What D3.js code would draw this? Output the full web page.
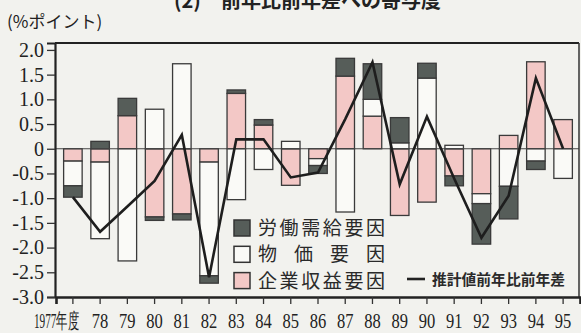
<!DOCTYPE html>
<html>
<head>
<meta charset="utf-8">
<script src="https://cdn.jsdelivr.net/npm/d3@7"></script>
<style>
  html, body { margin: 0; padding: 0; background: #f2f2ee; }
  svg { display: block; }
</style>
</head>
<body>
<svg id="chart" width="581" height="333"></svg>
<script>
// Fiscal years on the category axis
const years = ["1977","78","79","80","81","82","83","84","85","86","87","88","89","90","91","92","93","94","95"];
const yearLabels = ["1977年度","78","79","80","81","82","83","84","85","86","87","88","89","90","91","92","93","94","95"];

// Contributions (% points) by factor
const profitFactor = [-0.25,-0.27, 0.67,-1.38,-1.32,-0.27, 1.12, 0.48,-0.74,-0.20, 1.47, 0.66,-1.35,-1.08,-0.55,-0.91, 0.27, 1.76, 0.59]; // 企業収益要因
const priceFactor  = [-0.50,-1.55,-2.27, 0.80, 1.72,-2.30,-1.03,-0.42, 0.15,-0.14,-1.28, 0.34, 0.12, 1.43, 0.07,-0.20,-0.76,-0.25,-0.60]; // 物価要因
const laborFactor  = [-0.23, 0.15, 0.35,-0.07,-0.12,-0.15, 0.07, 0.11, 0.00,-0.16, 0.36, 0.72, 0.51, 0.30,-0.20,-0.82,-0.66,-0.17, 0.00]; // 労働需給要因

// Year-on-year change of the estimated value
const estimateDiff = [-0.98,-1.68,-1.17,-0.65, 0.28,-2.60, 0.19, 0.19,-0.58,-0.48, 0.60, 1.75,-0.72, 0.65,-0.60,-1.80,-0.95, 1.43, 0.00];

const yTicks = [2.0, 1.5, 1.0, 0.5, 0, -0.5, -1.0, -1.5, -2.0, -2.5, -3.0];
const yTickLabels = ["2.0","1.5","1.0","0.5","0","-0.5","-1.0","-1.5","-2.0","-2.5","-3.0"];

const seriesKeys = ["profit", "price", "labor"];
const seriesNames = { labor: "労働需給要因", price: "物　価　要　因", profit: "企業収益要因" };
const seriesFill = { labor: "#565d59", price: "#fafaf7", profit: "#f3c8c6" };

const table = years.map((yr, i) => ({
  year: yr, profit: profitFactor[i], price: priceFactor[i], labor: laborFactor[i]
}));

const svg = d3.select("#chart");
const plotLeft = 55, plotRight = 579, plotTop = 43, plotBottom = 297;

const x = d3.scaleBand().domain(years).range([plotLeft + 1, plotRight + 1])
  .paddingInner(0.32).paddingOuter(0.28);
const y = d3.scaleLinear().domain([-3, 2.14]).range([plotBottom, plotTop]);

// Title (upper part runs off the top edge)
svg.append("text")
  .attr("x", 174).attr("y", 8)
  .attr("font-family", "Noto Sans CJK JP").attr("font-size", 20).attr("font-weight", "bold")
  .attr("fill", "#222")
  .text("(2)　前年比前年差への寄与度");

// Unit label
svg.append("text")
  .attr("x", 7).attr("y", 28)
  .attr("font-family", "Noto Sans CJK JP").attr("font-size", 17)
  .attr("fill", "#222")
  .text("(%ポイント)");

// Stacked bars, positives up and negatives down from zero
const stacked = d3.stack().keys(seriesKeys)
  .order(d3.stackOrderNone).offset(d3.stackOffsetDiverging)(table);

const barG = svg.append("g");
stacked.forEach(layer => {
  barG.append("g").selectAll("rect")
    .data(layer.filter(d => d[0] !== d[1]))
    .join("rect")
    .attr("x", d => x(d.data.year))
    .attr("width", x.bandwidth())
    .attr("y", d => y(Math.max(d[0], d[1])))
    .attr("height", d => Math.abs(y(d[0]) - y(d[1])))
    .attr("fill", seriesFill[layer.key])
    .attr("stroke", "#3a3a3a")
    .attr("stroke-width", 1.3);
});

// Zero line
svg.append("line")
  .attr("x1", plotLeft).attr("x2", plotRight)
  .attr("y1", y(0)).attr("y2", y(0))
  .attr("stroke", "#444").attr("stroke-width", 1);

// Estimated value line
const line = d3.line()
  .x((d, i) => x(years[i]) + x.bandwidth() / 2)
  .y(d => y(d));
svg.append("path")
  .datum(estimateDiff)
  .attr("d", line)
  .attr("fill", "none")
  .attr("stroke", "#1e1e1e")
  .attr("stroke-width", 2.6)
  .attr("stroke-linejoin", "miter");

// Frame
svg.append("line").attr("x1", plotLeft).attr("x2", plotRight).attr("y1", plotTop).attr("y2", plotTop)
  .attr("stroke", "#222").attr("stroke-width", 2);
svg.append("line").attr("x1", plotRight).attr("x2", plotRight).attr("y1", plotTop).attr("y2", plotBottom)
  .attr("stroke", "#333").attr("stroke-width", 1.5);

// Axes
const yAxis = d3.axisLeft(y).tickValues(yTicks)
  .tickFormat((d, i) => yTickLabels[i]).tickSize(8).tickPadding(3);
const yG = svg.append("g").attr("transform", `translate(${plotLeft},0)`).call(yAxis);
yG.select(".domain").attr("stroke", "#222").attr("stroke-width", 2.2);
yG.selectAll(".tick line").attr("stroke", "#333").attr("stroke-width", 1.3);
yG.selectAll(".tick text")
  .attr("font-family", "Liberation Serif").attr("font-size", 20).attr("fill", "#222");

const xAxis = d3.axisBottom(x).tickFormat((d, i) => yearLabels[i]).tickSize(7).tickPadding(0);
const xG = svg.append("g").attr("transform", `translate(0,${plotBottom})`).call(xAxis);
xG.select(".domain").attr("stroke", "#222").attr("stroke-width", 2.6);
xG.selectAll(".tick line").attr("stroke", "#333").attr("stroke-width", 1.3);
// Tall, narrow year labels; the first one sits left of its tick
xG.selectAll(".tick text")
  .attr("font-family", "Liberation Serif").attr("font-size", 21).attr("fill", "#222")
  .attr("y", 31).attr("dy", 0)
  .attr("text-anchor", "start")
  .each(function (d, i) {
    const natural = this.getComputedTextLength();
    const target = i === 0 ? 45 : 16.5;
    const s = target / natural;
    const startX = i === 0 ? -39 : -target / 2;
    d3.select(this)
      .attr("x", startX / s)
      .attr("transform", `scale(${s},1)`);
  });

// Legend
const legendKeys = ["labor", "price", "profit"];
const lg = svg.append("g");
legendKeys.forEach((k, i) => {
  const cy = 228 + i * 26.3;
  lg.append("rect")
    .attr("x", 234).attr("y", cy - 8).attr("width", 16).attr("height", 16)
    .attr("fill", seriesFill[k]).attr("stroke", "#333").attr("stroke-width", 1.5);
  lg.append("text")
    .attr("x", 258).attr("y", cy + 7)
    .attr("font-family", "Noto Sans CJK JP").attr("font-size", 19)
    .attr("fill", "#2a2a2a")
    .attr("textLength", 127).attr("lengthAdjust", "spacing")
    .text(seriesNames[k]);
});
lg.append("line")
  .attr("x1", 407).attr("x2", 425).attr("y1", 279).attr("y2", 279)
  .attr("stroke", "#222").attr("stroke-width", 2.6);
lg.append("text")
  .attr("x", 432).attr("y", 285)
  .attr("font-family", "Noto Sans CJK JP").attr("font-size", 15).attr("font-weight", "bold")
  .attr("fill", "#2a2a2a")
  .attr("textLength", 133).attr("lengthAdjust", "spacingAndGlyphs")
  .text("推計値前年比前年差");
</script>
</body>
</html>
